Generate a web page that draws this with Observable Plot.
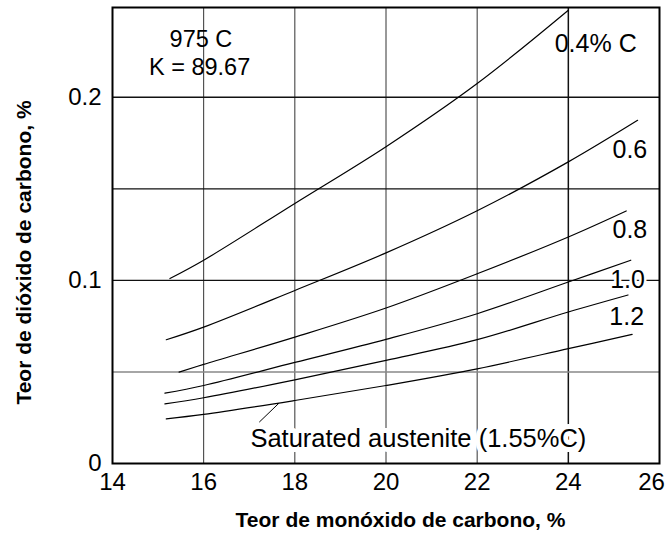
<!DOCTYPE html>
<html>
<head>
<meta charset="utf-8">
<script src="https://cdn.jsdelivr.net/npm/d3@7"></script>
<script src="https://cdn.jsdelivr.net/npm/@observablehq/plot@0.6"></script>
<style>
  html, body { margin: 0; padding: 0; background: #fff; }
  #chart { width: 666px; height: 534px; }
</style>
</head>
<body>
<div id="chart"></div>
<script>
// ---- data ----
const xTicks = [14, 16, 18, 20, 22, 24, 26];
const yTicks = [0, 0.1, 0.2];
const xGrid = [16, 18, 20, 22, 24];
const yGrid = [0.05, 0.1, 0.15, 0.2];

const seriesNames = ["0.4% C", "0.6", "0.8", "1.0", "1.2", "Saturated austenite (1.55%C)"];

const co04 = [15.26, 16, 18, 20, 22, 24];
const co2_04 = [0.101, 0.111, 0.142, 0.173, 0.2075, 0.2475];
const co06 = [15.18, 16, 18, 20, 22, 24, 25.52];
const co2_06 = [0.0676, 0.0745, 0.0945, 0.115, 0.138, 0.1647, 0.1874];
const co08 = [15.46, 16, 18, 20, 22, 24, 25.27];
const co2_08 = [0.0499, 0.0541, 0.069, 0.0849, 0.1036, 0.1237, 0.1379];
const co10 = [15.15, 16, 18, 20, 22, 24, 25.37];
const co2_10 = [0.0384, 0.0426, 0.0552, 0.0678, 0.0818, 0.0991, 0.111];
const co12 = [15.15, 16, 18, 20, 22, 24, 25.31];
const co2_12 = [0.0326, 0.0359, 0.0457, 0.0563, 0.0676, 0.0827, 0.092];
const coSat = [15.18, 16, 18, 20, 22, 24, 25.4];
const co2_Sat = [0.0244, 0.0268, 0.0344, 0.0426, 0.0517, 0.0627, 0.0705];

const tempLabel = "975 C";
const kLabel = "K = 89.67";
const xTitle = "Teor de monóxido de carbono, %";
const yTitle = "Teor de dióxido de carbono, %";

// ---- build table ----
const xs = [co04, co06, co08, co10, co12, coSat];
const ys = [co2_04, co2_06, co2_08, co2_10, co2_12, co2_Sat];
const rows = [];
seriesNames.forEach((name, i) => xs[i].forEach((x, j) => rows.push({series: name, co: x, co2: ys[i][j]})));

const FONT = "'Liberation Sans', Arial, Helvetica, sans-serif";
const ANN = 25;

const chart = Plot.plot({
  width: 666,
  height: 534,
  marginLeft: 112,
  marginRight: 7,
  marginTop: 7,
  marginBottom: 71,
  x: {domain: [14, 26], axis: null},
  y: {domain: [0, 0.249], axis: null},
  style: {fontFamily: FONT, background: "#fff", color: "#000"},
  marks: [
    Plot.ruleX(xGrid, {filter: d => d !== 24, stroke: "#333", strokeWidth: 1}),
    Plot.ruleX(xGrid, {filter: d => d === 24, stroke: "#111", strokeWidth: 1.5}),
    Plot.ruleY(yGrid, {filter: d => d !== 0.05, stroke: "#111", strokeWidth: 1.3}),
    Plot.ruleY(yGrid, {filter: d => d === 0.05, stroke: "#888", strokeWidth: 1.6}),
    Plot.line(rows, {x: "co", y: "co2", z: "series", stroke: "#000", strokeWidth: 1.2, curve: "catmull-rom"}),
    Plot.frame({stroke: "#000", strokeWidth: 2}),
    // leader line for saturated austenite
    Plot.link([0], {x1: () => 17.22, y1: () => 0.0226, x2: () => 17.65, y2: () => 0.0329, stroke: "#000", strokeWidth: 1}),
    // annotations
    Plot.text([tempLabel], {x: () => 15.94, y: () => 0.2313, text: d => d, fontSize: 23.5}),
    Plot.text([kLabel], {x: () => 15.91, y: () => 0.2164, text: d => d, fontSize: 23.5}),
    Plot.text([seriesNames[0]], {x: () => 24.6, y: () => 0.2288, text: d => d, fontSize: ANN}),
    Plot.text([seriesNames[1]], {x: () => 25.35, y: () => 0.171, text: d => d, fontSize: ANN}),
    Plot.text([seriesNames[2]], {x: () => 25.35, y: () => 0.1273, text: d => d, fontSize: ANN}),
    Plot.text([seriesNames[3]], {x: () => 25.3, y: () => 0.1, text: d => d, fontSize: ANN, stroke: "#fff", strokeWidth: 5, fill: "#000"}),
    Plot.text([seriesNames[4]], {x: () => 25.28, y: () => 0.08, text: d => d, fontSize: ANN}),
    Plot.text([seriesNames[5]], {x: () => 20.71, y: () => 0.0135, text: d => d, fontSize: 25.5, stroke: "#fff", strokeWidth: 10, fill: "#000"}),
    // tick labels
    Plot.text(xTicks, {filter: d => d !== 26, x: d => d, frameAnchor: "bottom", textAnchor: "middle", lineAnchor: "top", dy: 9, text: d => String(d), fontSize: 24}),
    Plot.text(xTicks, {filter: d => d === 26, x: d => d, frameAnchor: "bottom", textAnchor: "middle", lineAnchor: "top", dy: 9, dx: -8, text: d => String(d), fontSize: 24}),
    Plot.text(yTicks, {y: d => d, frameAnchor: "left", textAnchor: "end", lineAnchor: "middle", dx: -11, text: d => String(d), fontSize: 24}),
    // axis titles
    Plot.text([xTitle], {frameAnchor: "bottom", textAnchor: "middle", lineAnchor: "middle", dx: 14.5, dy: 57, text: d => d, fontSize: 21, fontWeight: "bold"}),
    Plot.text([yTitle], {frameAnchor: "left", textAnchor: "middle", lineAnchor: "middle", dx: -88, dy: 17, rotate: -90, text: d => d, fontSize: 21, fontWeight: "bold"})
  ]
});
document.getElementById("chart").appendChild(chart);
</script>
</body>
</html>
